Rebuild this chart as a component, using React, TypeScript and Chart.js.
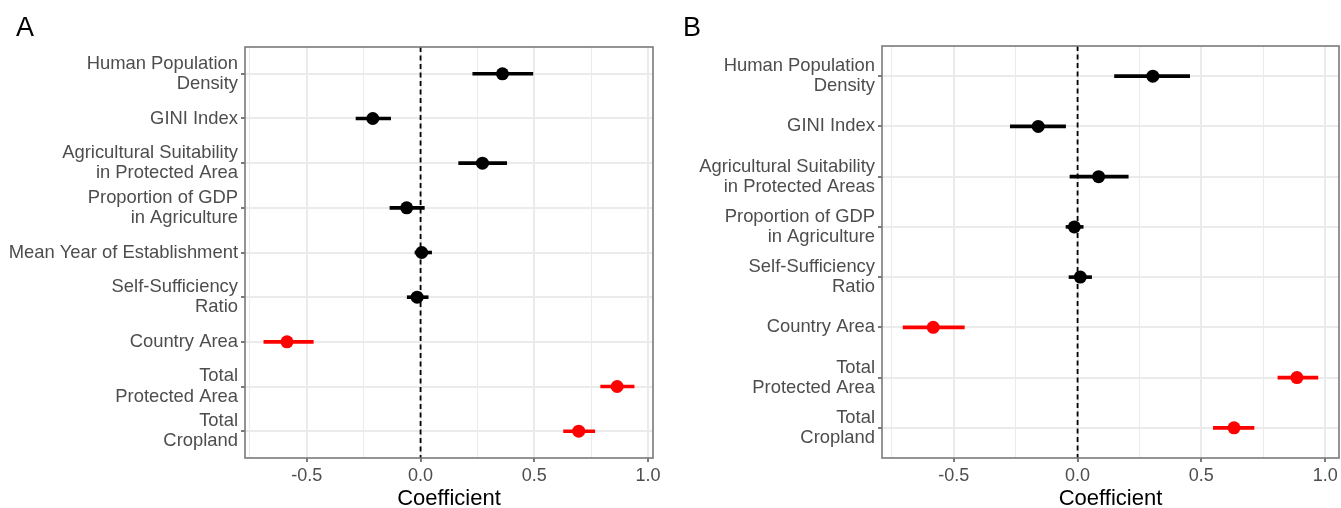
import React, { useEffect, useRef } from "react";
import { Chart, registerables } from "chart.js";

Chart.register(...registerables);

const FONT = "'Liberation Sans', Arial, Helvetica, sans-serif";

// ---------- Panel A data ----------
const labelsA: string[][] = [
  ["Human Population", "Density"],
  ["GINI Index"],
  ["Agricultural Suitability", "in Protected Area"],
  ["Proportion of GDP", "in Agriculture"],
  ["Mean Year of Establishment"],
  ["Self-Sufficiency", "Ratio"],
  ["Country Area"],
  ["Total", "Protected Area"],
  ["Total", "Cropland"],
];
const coefA = [0.36, -0.21, 0.272, -0.061, 0.005, -0.015, -0.587, 0.864, 0.695];
const lowA = [0.228, -0.285, 0.166, -0.136, -0.026, -0.06, -0.69, 0.79, 0.627];
const highA = [0.495, -0.13, 0.38, 0.018, 0.05, 0.035, -0.47, 0.94, 0.767];
const highlightA = [false, false, false, false, false, false, true, true, true];

// ---------- Panel B data ----------
const labelsB: string[][] = [
  ["Human Population", "Density"],
  ["GINI Index"],
  ["Agricultural Suitability", "in Protected Areas"],
  ["Proportion of GDP", "in Agriculture"],
  ["Self-Sufficiency", "Ratio"],
  ["Country Area"],
  ["Total", "Protected Area"],
  ["Total", "Cropland"],
];
const coefB = [0.304, -0.159, 0.085, -0.013, 0.011, -0.583, 0.886, 0.632];
const lowB = [0.148, -0.273, -0.032, -0.048, -0.036, -0.706, 0.808, 0.547];
const highB = [0.454, -0.047, 0.206, 0.024, 0.058, -0.456, 0.972, 0.714];
const highlightB = [false, false, false, false, false, true, true, true];

const xTicks = [-0.75, -0.5, -0.25, 0, 0.25, 0.5, 0.75, 1.0];
const majorXTicks = [-0.5, 0, 0.5, 1.0];
const xTitle = "Coefficient";

const isMajor = (v: number) => majorXTicks.some((m) => Math.abs(m - v) < 1e-9);

const borderPlugin = {
  id: "panelBorder",
  afterDraw(chart: any) {
    const { ctx, chartArea } = chart;
    ctx.save();
    ctx.strokeStyle = "#7a7a7a";
    ctx.lineWidth = 1.6;
    ctx.strokeRect(chartArea.left, chartArea.top, chartArea.right - chartArea.left, chartArea.bottom - chartArea.top);
    ctx.restore();
  },
};

type PanelProps = {
  labels: string[][];
  coef: number[];
  low: number[];
  high: number[];
  highlight: boolean[];
  left: number;
  width: number;
  padTop: number;
  padRight: number;
  yAxisWidth: number;
};

function Panel(props: PanelProps) {
  const ref = useRef<HTMLCanvasElement | null>(null);
  useEffect(() => {
    if (!ref.current) return;
    const { labels, coef, low, high, highlight } = props;
    const lo = Math.min(...low);
    const hi = Math.max(...high);
    const span = hi - lo;
    const xMin = lo - 0.05 * span;
    const xMax = hi + 0.05 * span;
    const yMin = -0.6;
    const yMax = labels.length - 1 + 0.6;
    const colorOf = (h: boolean) => (h ? "#ff0000" : "#000000");

    const datasets: any[] = [];
    datasets.push({
      label: "points",
      data: coef.map((x, i) => ({ x, y: i })),
      pointRadius: 6.5,
      pointHoverRadius: 6.5,
      pointBackgroundColor: highlight.map(colorOf),
      pointBorderColor: highlight.map(colorOf),
      pointBorderWidth: 0,
      showLine: false,
      order: 1,
    });
    coef.forEach((_, i) => {
      datasets.push({
        label: "ci" + i,
        data: [
          { x: low[i], y: i },
          { x: high[i], y: i },
        ],
        showLine: true,
        borderColor: colorOf(highlight[i]),
        borderWidth: 3.6,
        borderCapStyle: "butt",
        pointRadius: 0,
        pointHoverRadius: 0,
        order: 2,
      });
    });
    datasets.push({
      label: "zero",
      data: [
        { x: 0, y: yMin },
        { x: 0, y: yMax },
      ],
      showLine: true,
      borderColor: "#000000",
      borderWidth: 1.8,
      borderDash: [5, 3.5],
      pointRadius: 0,
      pointHoverRadius: 0,
      order: 3,
    });

    const zeroPad = (s: any) => {
      s.paddingLeft = 0;
      s.paddingRight = 0;
      s.paddingTop = 0;
      s.paddingBottom = 0;
    };

    const chart = new Chart(ref.current, {
      type: "scatter",
      data: { datasets },
      plugins: [borderPlugin],
      options: {
        animation: false,
        responsive: true,
        maintainAspectRatio: false,
        events: [],
        layout: { autoPadding: false, padding: { top: props.padTop, right: props.padRight, left: 0, bottom: 0 } },
        plugins: { legend: { display: false }, tooltip: { enabled: false } },
        scales: {
          x: {
            type: "linear",
            min: xMin,
            max: xMax,
            afterBuildTicks: (s: any) => {
              s.ticks = xTicks.filter((v) => v >= xMin && v <= xMax).map((value) => ({ value }));
            },
            afterFit: (s: any) => {
              s.height = 50;
              zeroPad(s);
            },
            border: { display: false },
            grid: {
              color: "#ebebeb",
              lineWidth: (c: any) => (c.tick && isMajor(c.tick.value) ? 2 : 1),
              tickColor: (c: any) => (c.tick && isMajor(c.tick.value) ? "#333333" : "rgba(0,0,0,0)"),
              tickLength: 4,
              tickWidth: 1.3,
            },
            ticks: {
              autoSkip: false,
              maxRotation: 0,
              padding: 3,
              color: "#4d4d4d",
              font: { family: FONT, size: 18 },
              callback: (v: any) => (isMajor(Number(v)) ? Number(v).toFixed(1) : ""),
            },
            title: {
              display: true,
              text: xTitle,
              color: "#000000",
              font: { family: FONT, size: 22, lineHeight: 0.85 },
              padding: { top: 0, bottom: 0 },
            },
          },
          y: {
            type: "linear",
            reverse: true,
            min: yMin,
            max: yMax,
            afterBuildTicks: (s: any) => {
              s.ticks = labels.map((_, i) => ({ value: i }));
            },
            afterFit: (s: any) => {
              s.width = props.yAxisWidth;
              zeroPad(s);
            },
            border: { display: false },
            grid: {
              color: "#ebebeb",
              lineWidth: 2,
              tickColor: "#333333",
              tickLength: 4,
              tickWidth: 1.3,
            },
            ticks: {
              autoSkip: false,
              padding: 3,
              color: "#4d4d4d",
              font: { family: FONT, size: 18.4, lineHeight: 1.1 },
              callback: (v: any) => {
                const i = Math.round(Number(v));
                const l = labels[i];
                if (!l) return "";
                return l.length === 1 ? l[0] : l;
              },
            },
          },
        },
      },
    } as any);
    return () => chart.destroy();
  }, []);

  return (
    <div style={{ position: "absolute", left: props.left, top: 0, width: props.width, height: 508 }}>
      <canvas ref={ref} />
    </div>
  );
}

const letterStyle: React.CSSProperties = {
  position: "absolute",
  top: 13.5,
  fontFamily: FONT,
  fontSize: 27,
  lineHeight: "27px",
  color: "#000",
};

export default function App() {
  return (
    <div style={{ position: "absolute", left: 0, top: 0, width: 1341, height: 508, background: "#fff", overflow: "hidden" }}>
      <Panel
        labels={labelsA}
        coef={coefA}
        low={lowA}
        high={highA}
        highlight={highlightA}
        left={0}
        width={670}
        padTop={47}
        padRight={17}
        yAxisWidth={245}
      />
      <Panel
        labels={labelsB}
        coef={coefB}
        low={lowB}
        high={highB}
        highlight={highlightB}
        left={672}
        width={669}
        padTop={46}
        padRight={2}
        yAxisWidth={210}
      />
      <div style={{ ...letterStyle, left: 16 }}>A</div>
      <div style={{ ...letterStyle, left: 683 }}>B</div>
    </div>
  );
}
